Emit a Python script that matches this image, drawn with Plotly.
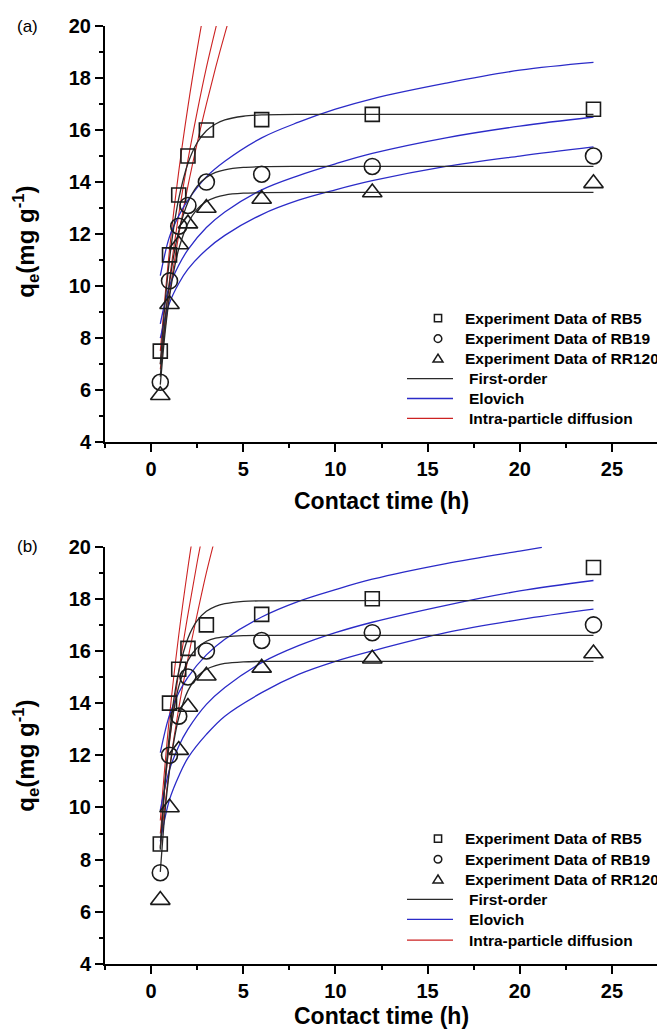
import plotly.graph_objects as go

# ---------------- data: panel (a) ----------------
t_exp = [0.5, 1, 1.5, 2, 3, 6, 12, 24]
a_rb5 = [7.5, 11.2, 13.5, 15.0, 16.0, 16.4, 16.6, 16.8]
a_rb19 = [6.3, 10.2, 12.3, 13.1, 14.0, 14.3, 14.6, 15.0]
a_rr120 = [5.8, 9.3, 11.6, 12.4, 13.0, 13.35, 13.6, 13.95]

t_fo = [0.5, 0.75, 1, 1.25, 1.5, 2, 2.5, 3, 3.5, 4, 5, 6, 8, 24]
a_fo_rb5 = [6.99, 9.27, 11.03, 12.35, 13.36, 14.72, 15.51, 15.97, 16.23, 16.39, 16.53, 16.58, 16.6, 16.6]
a_fo_rb19 = [6.51, 8.57, 10.11, 11.26, 12.11, 13.22, 13.84, 14.18, 14.37, 14.47, 14.56, 14.59, 14.6, 14.6]
a_fo_rr120 = [6.21, 8.15, 9.59, 10.64, 11.42, 12.41, 12.96, 13.25, 13.41, 13.5, 13.57, 13.59, 13.6, 13.6]

t_el = [0.5, 1, 1.5, 2, 3, 4, 6, 8, 10, 12, 16, 20, 24]
a_el_rb5 = [10.4, 11.9, 12.7, 13.3, 14.2, 14.8, 15.7, 16.3, 16.8, 17.2, 17.8, 18.3, 18.6]
a_el_rb19 = [8.55, 10.0, 10.8, 11.4, 12.25, 12.85, 13.7, 14.25, 14.7, 15.1, 15.7, 16.15, 16.5]
a_el_rr120 = [8.0, 9.35, 10.1, 10.65, 11.4, 11.95, 12.75, 13.3, 13.7, 14.05, 14.6, 15.0, 15.35]

t_ip = [0.5, 1, 1.5, 2, 2.5, 3, 3.5, 4, 4.5]
a_ip_rb5 = [7.5, 11.4, 14.4, 16.9, 19.1, 21.1, None, None, None]
a_ip_rb19 = [7.0, 10.25, 12.75, 14.85, 16.7, 18.4, 19.9, 21.3, None]
a_ip_rr120 = [6.8, 9.7, 11.96, 13.85, 15.5, 17.0, 18.4, 19.7, 20.9]

# ---------------- data: panel (b) ----------------
b_rb5 = [8.6, 14.0, 15.3, 16.1, 17.0, 17.4, 18.0, 19.2]
b_rb19 = [7.5, 12.0, 13.5, 15.0, 16.0, 16.4, 16.7, 17.0]
b_rr120 = [6.45, 10.0, 12.2, 13.85, 15.05, 15.35, 15.7, 15.9]

b_fo_rb5 = [8.38, 10.96, 12.84, 14.22, 15.22, 16.49, 17.16, 17.52, 17.71, 17.81, 17.9, 17.92, 17.93, 17.93]
b_fo_rb19 = [8.44, 10.88, 12.59, 13.79, 14.63, 15.63, 16.12, 16.37, 16.49, 16.54, 16.59, 16.6, 16.6, 16.6]
b_fo_rr120 = [7.53, 9.79, 11.42, 12.59, 13.44, 14.48, 15.02, 15.3, 15.44, 15.52, 15.58, 15.6, 15.6, 15.6]

t_el_b5 = [0.5, 1, 1.5, 2, 3, 4, 6, 8, 10, 12, 16, 20, 21.2]
b_el_rb5 = [12.1, 13.55, 14.4, 15.0, 15.85, 16.45, 17.3, 17.9, 18.35, 18.75, 19.35, 19.83, 19.97]
b_el_rb19 = [9.9, 11.45, 12.35, 13.0, 13.95, 14.6, 15.55, 16.2, 16.7, 17.1, 17.75, 18.3, 18.7]
b_el_rr120 = [8.7, 10.3, 11.2, 11.9, 12.8, 13.5, 14.4, 15.1, 15.6, 16.0, 16.7, 17.2, 17.6]

b_ip_rb5 = [9.5, 13.5, 16.6, 19.2, 21.5, None, None, None, None]
b_ip_rb19 = [9.0, 12.5, 15.2, 17.4, 19.4, 21.2, None, None, None]
b_ip_rr120 = [8.5, 11.5, 13.8, 15.7, 17.4, 19.0, 20.4, None, None]

legend_names = ["Experiment Data of RB5", "Experiment Data of RB19", "Experiment Data of RR120",
                "First-order", "Elovich", "Intra-particle diffusion"]
x_ticks = [0, 5, 10, 15, 20, 25]
y_ticks = [4, 6, 8, 10, 12, 14, 16, 18, 20]

# ---------------- styling ----------------
FONT = "Liberation Sans, Arial, sans-serif"
C_FO = "#2a2a2a"
C_EL = "#2b2bc8"
C_IP = "#cc2222"
C_MK = "#1a1a1a"

# plot area geometry (pixels inside the figure)
PL, PW, PT, PH = 97, 553, 16, 940


def px(xp):
    return (xp - PL) / PW


def py(yp):
    return (PT + PH - yp) / PH


fig = go.Figure()

panels = [
    dict(xa="x", ya="y",
         exp=[a_rb5, a_rb19, a_rr120],
         fo=[a_fo_rb5, a_fo_rb19, a_fo_rr120],
         el=[(t_el, a_el_rb5), (t_el, a_el_rb19), (t_el, a_el_rr120)],
         ip=[a_ip_rb5, a_ip_rb19, a_ip_rr120]),
    dict(xa="x2", ya="y2",
         exp=[b_rb5, b_rb19, b_rr120],
         fo=[b_fo_rb5, b_fo_rb19, b_fo_rr120],
         el=[(t_el_b5, b_el_rb5), (t_el, b_el_rb19), (t_el, b_el_rr120)],
         ip=[b_ip_rb5, b_ip_rb19, b_ip_rr120]),
]
symbols = ["square-open", "circle-open", "triangle-up-open"]
sizes = [14, 16, 17]

for p in panels:
    for ys in p["ip"]:
        fig.add_trace(go.Scatter(x=t_ip, y=ys, mode="lines", line=dict(color=C_IP, width=1.1, shape="spline"),
                                 xaxis=p["xa"], yaxis=p["ya"], showlegend=False, connectgaps=False))
    for tt, ys in p["el"]:
        fig.add_trace(go.Scatter(x=tt, y=ys, mode="lines", line=dict(color=C_EL, width=1.3, shape="spline"),
                                 xaxis=p["xa"], yaxis=p["ya"], showlegend=False))
    for ys in p["fo"]:
        fig.add_trace(go.Scatter(x=t_fo, y=ys, mode="lines",
                                 line=dict(color=C_FO, width=1.3, shape="spline", smoothing=0.8),
                                 xaxis=p["xa"], yaxis=p["ya"], showlegend=False))
    for ys, sym, sz in zip(p["exp"], symbols, sizes):
        fig.add_trace(go.Scatter(x=t_exp, y=ys, mode="markers",
                                 marker=dict(symbol=sym, size=sz, color=C_MK, line=dict(width=1.6, color=C_MK)),
                                 xaxis=p["xa"], yaxis=p["ya"], showlegend=False))

axis_common = dict(
    showline=True, linewidth=2, linecolor="black", mirror=False,
    ticks="outside", ticklen=8, tickwidth=2, tickcolor="black",
    showgrid=False, zeroline=False,
    tickfont=dict(family=FONT, size=20, color="black", weight="bold"),
    minor=dict(ticks="outside", ticklen=4, tickwidth=1.5, tickcolor="black", showgrid=False),
)

fig.update_layout(
    width=657, height=1022,
    margin=dict(l=PL, r=7, t=PT, b=66),
    paper_bgcolor="white", plot_bgcolor="white",
    showlegend=False,
    font=dict(family=FONT, color="black"),
    xaxis=dict(domain=[0, 1], anchor="y", range=[-2.5, 27.5], tickvals=x_ticks,
               minor_dtick=2.5, minor_tick0=0, **axis_common),
    yaxis=dict(domain=[0.5564, 1], anchor="x", range=[4, 20], tickvals=y_ticks,
               minor_dtick=1, minor_tick0=0, **axis_common),
    xaxis2=dict(domain=[0, 1], anchor="y2", range=[-2.5, 27.5], tickvals=x_ticks,
                minor_dtick=2.5, minor_tick0=0, **axis_common),
    yaxis2=dict(domain=[0, 0.445], anchor="x2", range=[4, 20], tickvals=y_ticks,
                minor_dtick=1, minor_tick0=0, **axis_common),
)

ann_font = dict(family=FONT, size=23, color="black", weight="bold")
annotations = [
    dict(text="Contact time (h)", x=0.5, y=0.4936, xref="paper", yref="paper",
         showarrow=False, font=ann_font, xanchor="center", yanchor="middle"),
    dict(text="Contact time (h)", x=0.5, y=-0.0553, xref="paper", yref="paper",
         showarrow=False, font=ann_font, xanchor="center", yanchor="middle"),
    dict(text="q<sub>e</sub>(mg g<sup>-1</sup>)", x=-0.143, y=0.770, xref="paper", yref="paper",
         showarrow=False, font=dict(family=FONT, size=24, color="black", weight="bold"),
         textangle=-90, xanchor="center", yanchor="middle"),
    dict(text="q<sub>e</sub>(mg g<sup>-1</sup>)", x=-0.143, y=0.222, xref="paper", yref="paper",
         showarrow=False, font=dict(family=FONT, size=24, color="black", weight="bold"),
         textangle=-90, xanchor="center", yanchor="middle"),
    dict(text="(a)", x=-0.141, y=0.9995, xref="paper", yref="paper",
         showarrow=False, font=dict(family=FONT, size=17, color="black"), xanchor="center", yanchor="middle"),
    dict(text="(b)", x=-0.141, y=0.4447, xref="paper", yref="paper",
         showarrow=False, font=dict(family=FONT, size=17, color="black"), xanchor="center", yanchor="middle"),
]

# ---------------- manual legends (pixel rows, figure coordinates) ----------------
shapes = []
leg_font = dict(family=FONT, size=15.5, color="black", weight="bold")
legend_rows = [
    [308.7, 329.3, 349.3, 369.3, 389.3, 409.3],   # panel (a)
    [830.3, 851.0, 871.3, 891.3, 911.3, 932.0],   # panel (b)
]
MK_X, TXT_MK_X, TXT_LN_X, LN_X0, LN_X1 = 430, 455, 459, 399, 445
for rows in legend_rows:
    for i, (name, ry) in enumerate(zip(legend_names, rows)):
        tx = TXT_MK_X if i < 3 else TXT_LN_X
        annotations.append(dict(text=name, x=px(tx), y=py(ry), xref="paper", yref="paper",
                                showarrow=False, font=leg_font, xanchor="left", yanchor="middle"))
        if i == 0:
            h = 3.6
            shapes.append(dict(type="rect", xref="paper", yref="paper",
                               x0=px(MK_X - h), x1=px(MK_X + h), y0=py(ry + h), y1=py(ry - h),
                               line=dict(color=C_MK, width=1.5)))
        elif i == 1:
            h = 3.8
            shapes.append(dict(type="circle", xref="paper", yref="paper",
                               x0=px(MK_X - h), x1=px(MK_X + h), y0=py(ry + h), y1=py(ry - h),
                               line=dict(color=C_MK, width=1.5)))
        elif i == 2:
            path = "M {:.5f},{:.5f} L {:.5f},{:.5f} L {:.5f},{:.5f} Z".format(
                px(MK_X - 5), py(ry + 3.5), px(MK_X + 5), py(ry + 3.5), px(MK_X), py(ry - 4.5))
            shapes.append(dict(type="path", xref="paper", yref="paper", path=path,
                               line=dict(color=C_MK, width=1.5)))
        else:
            col = [C_FO, C_EL, C_IP][i - 3]
            shapes.append(dict(type="line", xref="paper", yref="paper",
                               x0=px(LN_X0), x1=px(LN_X1), y0=py(ry), y1=py(ry),
                               line=dict(color=col, width=1.3)))

fig.update_layout(annotations=annotations, shapes=shapes)

fig.write_html("out.html")
